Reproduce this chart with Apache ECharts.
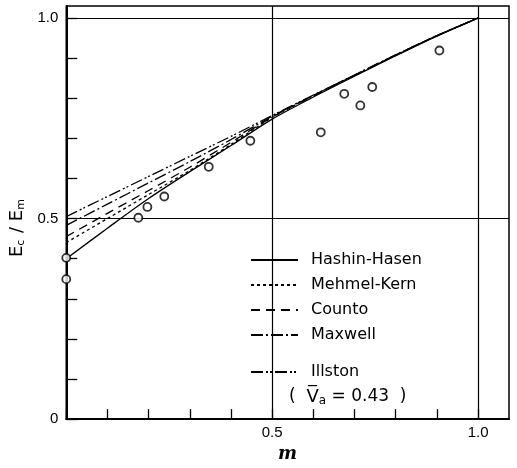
<!DOCTYPE html>
<html>
<head>
<meta charset="utf-8">
<script src="https://cdn.jsdelivr.net/npm/echarts@6/dist/echarts.min.js"></script>
<style>html,body{margin:0;padding:0;background:#fff}#c{width:517px;height:468px}</style>
</head>
<body>
<div id="c"></div>
<script>
const xs = [0, 0.1, 0.2, 0.3, 0.4, 0.5, 0.6, 0.7, 0.8, 0.9, 1.0];
const hashinHasen = [0.400, 0.476, 0.550, 0.617, 0.682, 0.748, 0.803, 0.855, 0.906, 0.955, 1.0];
const mehmelKern  = [0.440, 0.500, 0.560, 0.620, 0.685, 0.752, 0.806, 0.857, 0.907, 0.956, 1.0];
const counto      = [0.455, 0.513, 0.570, 0.628, 0.690, 0.753, 0.806, 0.857, 0.907, 0.956, 1.0];
const maxwell     = [0.483, 0.536, 0.589, 0.642, 0.697, 0.755, 0.807, 0.858, 0.908, 0.956, 1.0];
const illston     = [0.505, 0.555, 0.605, 0.655, 0.705, 0.757, 0.808, 0.858, 0.908, 0.956, 1.0];
const expM  = [0, 0, 0.175, 0.197, 0.238, 0.346, 0.447, 0.618, 0.675, 0.714, 0.743, 0.906];
const expE  = [0.402, 0.349, 0.502, 0.529, 0.555, 0.629, 0.694, 0.715, 0.811, 0.782, 0.828, 0.919];
const seriesNames = ['Hashin-Hasen', 'Mehmel-Kern', 'Counto', 'Maxwell', 'Illston'];
const xTickLabels = ['0.5', '1.0'];
const yTickLabels = ['0', '0.5', '1.0'];
const gridVals = [0.5, 1.0];

const curves = [hashinHasen, mehmelKern, counto, maxwell, illston];
const dashes = ['solid', [3, 3], [9, 6], [12, 3, 2, 3], [12, 3, 2, 2, 2, 3]];

const chart = echarts.init(document.getElementById('c'));
const lab = (v, list) => {
  for (const s of list) if (Math.abs(parseFloat(s) - v) < 1e-6) return s;
  return '';
};
const series = curves.map((arr, i) => ({
  name: seriesNames[i],
  type: 'line',
  smooth: 0.3,
  symbol: 'none',
  showSymbol: false,
  data: xs.map((x, j) => [x, arr[j]]),
  lineStyle: { color: '#000', width: 1.3, type: dashes[i] },
  itemStyle: { color: '#000' },
  z: 3
}));
series[0].markLine = {
  silent: true, symbol: 'none', label: { show: false },
  lineStyle: { color: '#000', width: 1.2, type: 'solid' },
  data: gridVals.map(v => ({ xAxis: v })).concat(gridVals.map(v => ({ yAxis: v })))
};
series.push({
  name: 'exp', type: 'scatter', symbol: 'circle', symbolSize: 8,
  data: expM.map((m, i) => [m, expE[i]]),
  itemStyle: { color: '#fff', borderColor: '#000', borderWidth: 1.8 },
  z: 5
});

const legendCommon = {
  orient: 'vertical', itemWidth: 47, itemHeight: 14, itemGap: 5, padding: 0,
  itemStyle: { color: 'rgba(0,0,0,0)', borderColor: 'rgba(0,0,0,0)', borderWidth: 0 },
  textStyle: { fontFamily: 'DejaVu Sans', fontSize: 16, color: '#000', lineHeight: 20, padding: [0, 0, 0, 8] },
  selectedMode: false
};

const tickFont = { color: '#000', fontFamily: 'Liberation Sans', fontSize: 15 };

chart.setOption({
  animation: false,
  backgroundColor: '#fff',
  grid: { left: 62, right: 8, top: 6, bottom: 32, show: true, borderColor: '#000', borderWidth: 1.5 },
  xAxis: {
    type: 'value', min: 0, max: 1.075, interval: 0.1,
    axisLine: { lineStyle: { color: '#000', width: 2 } },
    axisTick: { inside: true, length: 10, lineStyle: { color: '#000', width: 1.3 } },
    splitLine: { show: false },
    axisLabel: Object.assign({ formatter: v => lab(v, xTickLabels), margin: 6, showMaxLabel: false }, tickFont),
    name: 'm', nameLocation: 'middle', nameGap: 25,
    nameTextStyle: { fontFamily: 'DejaVu Serif', fontStyle: 'italic', fontWeight: 'bold', fontSize: 18, color: '#000' }
  },
  yAxis: {
    type: 'value', min: 0, max: 1.03, interval: 0.1,
    axisLine: { lineStyle: { color: '#000', width: 2 } },
    axisTick: { inside: true, length: 11, lineStyle: { color: '#000', width: 1.3 } },
    splitLine: { show: false },
    axisLabel: Object.assign({ formatter: v => lab(v, yTickLabels), margin: 8, showMaxLabel: false }, tickFont),
    name: '{e|E}{s|c}{e| / E}{s|m}', nameLocation: 'middle', nameGap: 38, nameRotate: 90,
    nameTextStyle: {
      color: '#000',
      padding: [0, 30, 0, 0],
      rich: {
        e: { fontFamily: 'DejaVu Sans', fontSize: 18, color: '#000' },
        s: { fontFamily: 'DejaVu Sans', fontSize: 11, color: '#000', verticalAlign: 'bottom', padding: [8, 1, 0, 0] }
      }
    }
  },
  legend: [
    Object.assign({ left: 250, top: 250, data: seriesNames.slice(0, 4) }, legendCommon),
    Object.assign({ left: 250, top: 362, data: seriesNames.slice(4) }, legendCommon)
  ],
  graphic: [{
    type: 'text', left: 289, top: 388,
    style: {
      text: '(  {v|V\u0305}{s|a} = 0.43  )',
      fill: '#000', font: '17px "DejaVu Sans"',
      rich: {
        v: { fontFamily: 'DejaVu Sans', fontSize: 18, fill: '#000' },
        s: { fontFamily: 'DejaVu Sans', fontSize: 12, fill: '#000', padding: [7, 0, 0, 0] }
      }
    }
  }],
  series: series
});
</script>
</body>
</html>
